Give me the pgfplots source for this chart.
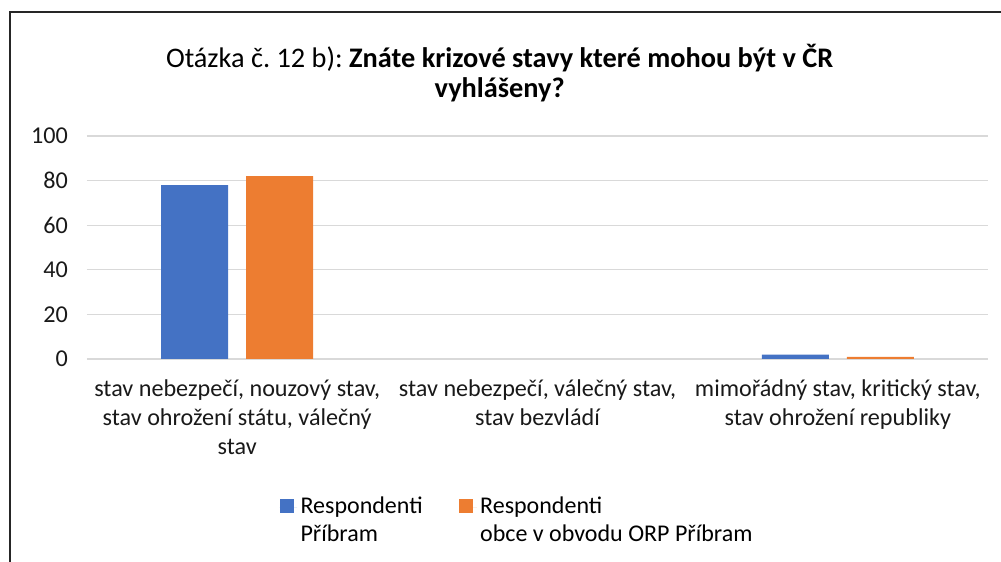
\documentclass[border=0pt]{standalone}
\usepackage{fontspec}
\setmainfont{Carlito}
\usepackage{pgfplots}
\pgfplotsset{compat=1.18}
\definecolor{cblue}{HTML}{4472C4}
\definecolor{corange}{HTML}{ED7D31}
\definecolor{cgrid}{HTML}{D9D9D9}
\frenchspacing
\begin{document}
\begin{tikzpicture}
\useasboundingbox (0,0) rectangle (600.6pt,337.2pt);
\draw[line width=1.2pt, black!85] (6pt,0) -- (6pt,330pt) -- (600.6pt,330pt);
\begin{axis}[
  at={(52.2pt,121.8pt)}, anchor=south west,
  scale only axis, width=540.6pt, height=133.8pt,
  ybar=10.8pt, bar width=40.2pt,
  xmin=-0.5, xmax=2.5, ymin=0, ymax=100,
  ytick={0,20,40,60,80,100},
  xtick={0,1,2},
  xticklabels={{stav nebezpečí, nouzový stav,\\stav ohrožení státu, válečný\\stav},
               {stav nebezpečí, válečný stav,\\stav bezvládí},
               {mimořádný stav, kritický stav,\\stav ohrožení republiky}},
  axis line style={draw=none},
  ymajorgrids, grid style={cgrid, line width=0.8pt},
  major tick length=0pt,
  tick label style={font=\fontsize{14.5}{17.4}\selectfont, text=black!90},
  xticklabel style={align=center, yshift=-9pt},
  yticklabel style={xshift=-8pt},
  /pgf/number format/assume math mode=true,
  title={Otázka č. 12 b): \textbf{Znáte krizové stavy které mohou být v ČR}\\\textbf{vyhlášeny?}},
  title style={align=center, at={(0.458,1.238)}, anchor=center, font=\fontsize{17}{18}\selectfont},
  legend style={at={(0.208,-0.587)}, anchor=north west, draw=none,
    font=\fontsize{14.4}{16.8}\selectfont, legend columns=2,
    cells={align=left, anchor=west},
    /tikz/every even column/.append style={column sep=20pt}},
  legend image code/.code={\fill[#1] (0cm,4.6pt) rectangle (8.4pt,13pt);
    \path (0,8pt) -- (10.5pt,8pt);},
]
\addplot[fill=cblue, draw=none] coordinates {(0,78) (2,2)};
\addplot[fill=corange, draw=none] coordinates {(0,82) (2,1)};
\legend{Respondenti\\Příbram, Respondenti\\obce v obvodu ORP Příbram}
\end{axis}
\end{tikzpicture}
\end{document}
